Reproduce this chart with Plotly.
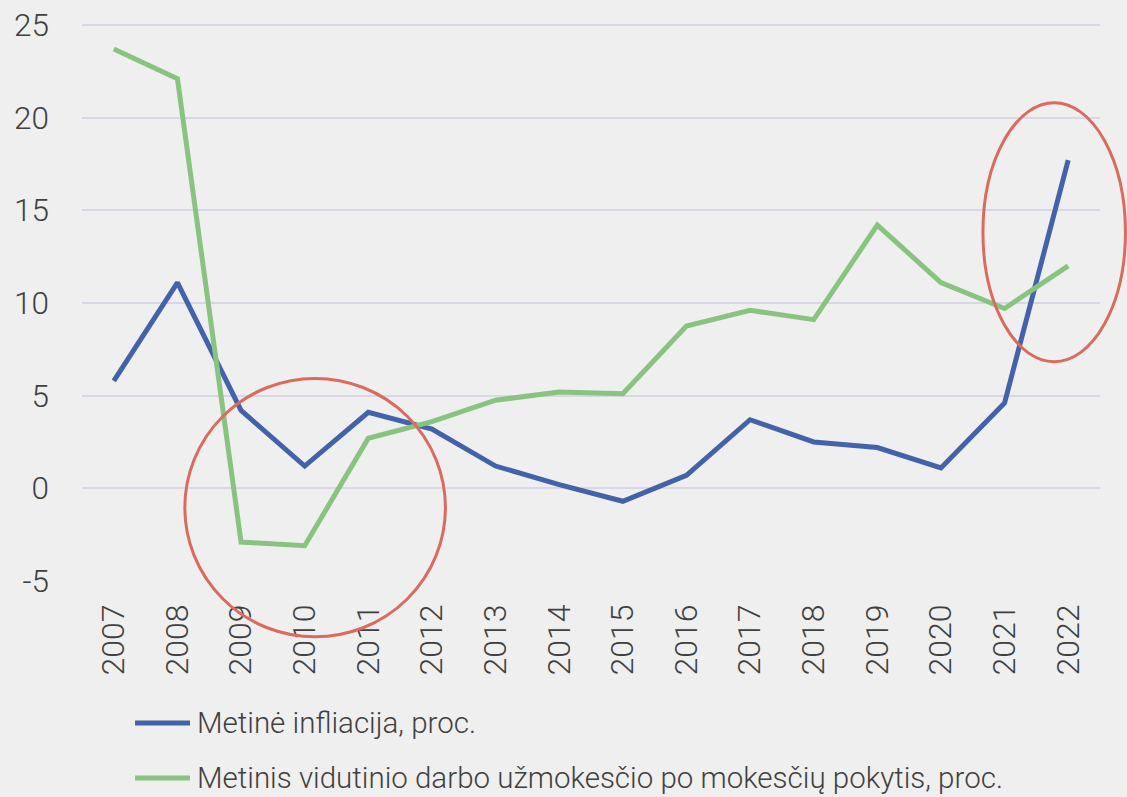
import plotly.graph_objects as go

years = ["2007", "2008", "2009", "2010", "2011", "2012", "2013", "2014",
         "2015", "2016", "2017", "2018", "2019", "2020", "2021", "2022"]
inflation = [5.8, 11.1, 4.2, 1.2, 4.1, 3.2, 1.2, 0.2, -0.7, 0.7, 3.7, 2.5, 2.2, 1.1, 4.6, 17.7]
wage_growth = [23.7, 22.1, -2.9, -3.1, 2.7, 3.6, 4.75, 5.2, 5.1, 8.75, 9.6, 9.1, 14.2, 11.1, 9.7, 12.0]
y_ticks = [-5, 0, 5, 10, 15, 20, 25]
name_infl = "Metinė infliacija, proc."
name_wage = "Metinis vidutinio darbo užmokesčio po mokesčių pokytis, proc."

FONT = "Roboto"
TXT = "#404040"
BLUE = "#4262AA"
GREEN = "#88C47F"

fig = go.Figure()
fig.add_trace(go.Scatter(x=years, y=inflation, mode="lines", name=name_infl,
                         line=dict(color=BLUE, width=5)))
fig.add_trace(go.Scatter(x=years, y=wage_growth, mode="lines", name=name_wage,
                         line=dict(color=GREEN, width=5)))

# highlight ellipses (paper coords: plot area spans 25..581 px vertically)
fig.add_shape(type="circle", xref="paper", yref="paper",
              x0=0.101, x1=0.357, y0=-0.100, y1=0.363,
              line=dict(color="#D96B5F", width=3))
fig.add_shape(type="circle", xref="paper", yref="paper",
              x0=0.885, x1=1.025, y0=0.393, y1=0.857,
              line=dict(color="#D96B5F", width=3))

# legend drawn below the axis (keeps plot area fixed)
for name, color, ypos in [(name_infl, BLUE, -0.2545), (name_wage, GREEN, -0.353)]:
    fig.add_shape(type="line", xref="paper", yref="paper",
                  x0=0.0521, x1=0.1061, y0=ypos, y1=ypos,
                  line=dict(color=color, width=5))
    fig.add_annotation(xref="paper", yref="paper", x=0.1110, y=ypos,
                       xanchor="left", yanchor="middle", showarrow=False,
                       text=name, font=dict(family=FONT, size=29.5, color=TXT, weight=300))

fig.update_layout(
    width=1127, height=797,
    paper_bgcolor="#EFEFEF", plot_bgcolor="#EFEFEF",
    margin=dict(l=82, r=27, t=23, b=216),
    font=dict(family=FONT, color=TXT, size=28, weight=300),
    showlegend=False,
    xaxis=dict(type="category", range=[-0.5, 15.5], tickangle=-90, showgrid=False,
               showline=False, zeroline=False, ticks="", ticklabelstandoff=16,
               automargin=False,
               tickfont=dict(family=FONT, size=32, color=TXT, weight=300)),
    yaxis=dict(range=[-5, 25.1], tickvals=y_ticks, ticktext=[str(v) for v in y_ticks],
               showgrid=True, gridcolor="#D9D7E6", gridwidth=2, zeroline=False,
               showline=False, ticks="", ticklabelstandoff=32, automargin=False,
               tickfont=dict(family=FONT, size=31.5, color=TXT, weight=300)),
)

fig.write_html("out.html", config={"displayModeBar": False},
               post_script="document.body.style.margin='0';document.body.style.overflow='hidden';")
